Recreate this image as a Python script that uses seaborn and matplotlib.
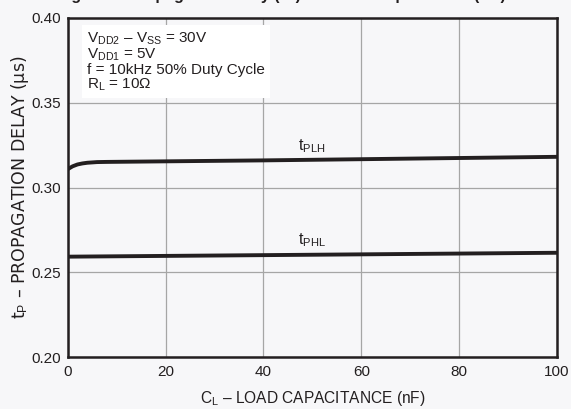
import matplotlib
matplotlib.use("Agg")
import matplotlib.pyplot as plt
import numpy as np
import pandas as pd
import seaborn as sns

# load capacitance (nF) and propagation delays (us)
cl_plh = [0, 1, 2, 3, 4, 5, 6, 8, 40, 100]
tplh = [0.3108, 0.3125, 0.3136, 0.3142, 0.3146, 0.3148, 0.3150, 0.3151, 0.3160, 0.3181]
cl_phl = [0, 40, 100]
tphl = [0.2592, 0.2601, 0.2615]

x_ticks = [0, 20, 40, 60, 80, 100]
y_ticks = [0.20, 0.25, 0.30, 0.35, 0.40]

INK = "#231f20"
BG = "#f7f7f9"

sns.set_theme(style="white")
plt.rcParams["font.family"] = ["Liberation Sans", "DejaVu Sans"]
plt.rcParams["mathtext.fontset"] = "custom"
plt.rcParams["mathtext.rm"] = "Liberation Sans"
plt.rcParams["mathtext.it"] = "Liberation Sans:italic"

df = pd.concat([
    pd.DataFrame({"cl": cl_plh, "tp": tplh, "curve": "tPLH"}),
    pd.DataFrame({"cl": cl_phl, "tp": tphl, "curve": "tPHL"}),
])

fig = plt.figure(figsize=(5.71, 4.09), dpi=100, facecolor=BG)
ax = fig.add_axes([0.1186, 0.1271, 0.8569, 0.8289])
ax.set_facecolor(BG)

sns.lineplot(data=df, x="cl", y="tp", units="curve", estimator=None,
             color=INK, linewidth=2.8, ax=ax, zorder=3)

ax.set_xlim(0, 100)
ax.set_ylim(0.20, 0.40)
ax.set_xticks(x_ticks)
ax.set_yticks(y_ticks)
ax.set_yticklabels([f"{v:.2f}" for v in y_ticks])
ax.grid(True, color="#a6a6a6", linewidth=0.9)
ax.tick_params(length=0, labelsize=11, colors=INK)
ax.tick_params(axis="x", pad=6)
ax.tick_params(axis="y", pad=5)
for s in ax.spines.values():
    s.set_color(INK)
    s.set_linewidth(1.8)

ax.set_xlabel("C$_\\mathrm{L}$ – LOAD CAPACITANCE (nF)", fontsize=11.2, color=INK, labelpad=7)
# the y title in the original is set in a wide face, so it runs much longer
ax.set_ylabel("t$_\\mathrm{P}$ – PROPAGATION DELAY (µs)", fontsize=12.5, color=INK,
              labelpad=0, family=["DejaVu Sans"])

ax.text(47, 0.3245, "t$_\\mathrm{PLH}$", fontsize=11.5, color=INK, va="center")
ax.text(47, 0.2690, "t$_\\mathrm{PHL}$", fontsize=11.5, color=INK, va="center")

cond = ("V$_\\mathrm{DD2}$ – V$_\\mathrm{SS}$ = 30V\n"
        "V$_\\mathrm{DD1}$ = 5V\n"
        "f = 10kHz 50% Duty Cycle\n"
        "R$_\\mathrm{L}$ = 10Ω")
ax.text(3.9, 0.3928, cond, fontsize=11, color=INK, va="top", ha="left",
        linespacing=1.0, zorder=4,
        bbox=dict(facecolor="white", edgecolor="none", pad=3.5))

# figure caption, mostly cut off by the top edge in the original
fig.text(0.10, 1.0, "Figure 5. Propagation Delay (tP) vs. Load Capacitance (CL)",
         fontsize=11.5, fontweight="bold", color=INK, va="baseline", ha="left")

fig.savefig("out.png", dpi=100, facecolor=BG)
